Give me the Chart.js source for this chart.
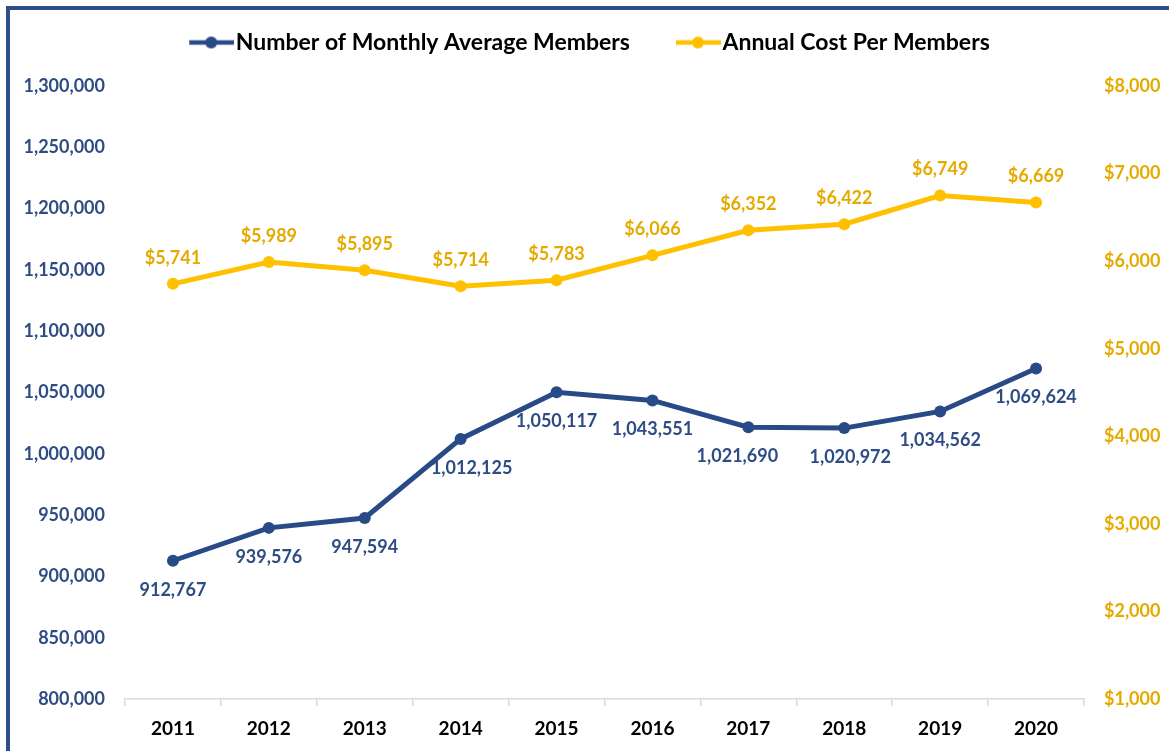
<!DOCTYPE html>
<html>
<head>
<meta charset="utf-8">
<script src="https://cdn.jsdelivr.net/npm/chart.js@4.4.1/dist/chart.umd.min.js"></script>
<style>
    html, body { margin: 0; padding: 0; background: #fff; overflow: hidden; }
    #frame {
        position: absolute; left: 6px; top: 6px;
        width: 1200px; height: 800px;
        border-left: 4px solid #2E4D8A; border-top: 4px solid #2E4D8A;
    }
    #chart { display: block; }
</style>
</head>
<body>
<div id="frame"><canvas id="chart" width="1170" height="741"></canvas></div>
<script>
const years = ["2011", "2012", "2013", "2014", "2015", "2016", "2017", "2018", "2019", "2020"];
const members = [912767, 939576, 947594, 1012125, 1050117, 1043551, 1021690, 1020972, 1034562, 1069624];
const costPerMember = [5741, 5989, 5895, 5714, 5783, 6066, 6352, 6422, 6749, 6669];
const memberTicks = [800000, 1300000, 50000];
const costTicks = [1000, 8000, 1000];

// small horizontal nudges for a few member labels (as placed in the original)
const memberLabelNudge = [0, 0, 0, 11, 0, 0, -11, 6, 0, 0];

const NAVY = "#284A86";
const NAVY_TEXT = "#2E4C84";
const GOLD = "#FFC000";
const GOLD_TEXT = "#E5AA00";
const FONT = "Lato, 'Open Sans', sans-serif";

// legend marker: line with a dot, drawn at the right side of its image
function legendMarker(color) {
    const c = document.createElement("canvas");
    c.width = 80; c.height = 16;
    const g = c.getContext("2d");
    g.strokeStyle = color;
    g.lineWidth = 4.5;
    g.beginPath(); g.moveTo(35, 8); g.lineTo(80, 8); g.stroke();
    g.fillStyle = color;
    g.beginPath(); g.arc(57, 8, 6, 0, Math.PI * 2); g.fill();
    return c;
}

const legendHeight = {
    id: "legendHeight",
    beforeLayout(chart) {
        const lg = chart.legend;
        if (lg && !lg._fixed) {
            const fit = lg.fit;
            lg.fit = function () { fit.call(this); this.height = 76; };
            lg._fixed = true;
        }
    },
    afterLayout(chart) {
        // legend sits slightly left of the canvas centre
        if (chart.legend) chart.legend.right -= 36;
    }
};

const pointLabels = {
    id: "pointLabels",
    afterDatasetsDraw(chart) {
        const ctx = chart.ctx;
        ctx.save();
        ctx.font = "bold 18px " + FONT;
        ctx.textAlign = "center";
        ctx.textBaseline = "middle";
        chart.data.datasets.forEach((ds, i) => {
            const meta = chart.getDatasetMeta(i);
            meta.data.forEach((pt, j) => {
                const v = ds.data[j];
                if (i === 0) {
                    ctx.fillStyle = NAVY_TEXT;
                    ctx.fillText(v.toLocaleString("en-US"), pt.x + memberLabelNudge[j], pt.y + 29);
                } else {
                    ctx.fillStyle = GOLD_TEXT;
                    ctx.fillText("$" + v.toLocaleString("en-US"), pt.x, pt.y - 26);
                }
            });
        });
        ctx.restore();
    }
};

const ctx = document.getElementById("chart").getContext("2d");
new Chart(ctx, {
    type: "line",
    data: {
        labels: years,
        datasets: [
            {
                label: "Number of Monthly Average Members",
                data: members,
                yAxisID: "y",
                borderColor: NAVY,
                backgroundColor: NAVY,
                borderWidth: 5,
                pointRadius: 6,
                pointBorderWidth: 0,
                pointBackgroundColor: NAVY,
                tension: 0
            },
            {
                label: "Annual Cost Per Members",
                data: costPerMember,
                yAxisID: "y1",
                borderColor: GOLD,
                backgroundColor: GOLD,
                borderWidth: 5,
                pointRadius: 6,
                pointBorderWidth: 0,
                pointBackgroundColor: GOLD,
                tension: 0
            }
        ]
    },
    options: {
        responsive: false,
        animation: false,
        devicePixelRatio: 1,
        layout: { padding: 0 },
        plugins: {
            tooltip: { enabled: false },
            legend: {
                position: "top",
                labels: {
                    color: "#000",
                    font: { family: FONT, size: 23, weight: "bold" },
                    usePointStyle: true,
                    pointStyleWidth: 60,
                    boxHeight: 16,
                    padding: 21,
                    generateLabels(chart) {
                        return chart.data.datasets.map((ds, i) => ({
                            text: ds.label,
                            fontColor: "#000",
                            pointStyle: legendMarker(ds.borderColor),
                            fillStyle: ds.borderColor,
                            strokeStyle: ds.borderColor,
                            lineWidth: 0,
                            hidden: false,
                            datasetIndex: i
                        }));
                    }
                }
            }
        },
        scales: {
            x: {
                type: "category",
                offset: true,
                grid: {
                    offset: true,
                    drawOnChartArea: false,
                    drawTicks: true,
                    tickLength: 7,
                    color: "#D9D9D9",
                    lineWidth: 1.5
                },
                border: { display: true, color: "#D9D9D9", width: 1.5 },
                ticks: {
                    color: "#000",
                    font: { family: FONT, size: 19, weight: "bold" },
                    padding: 11,
                    maxRotation: 0
                },
                afterFit(s) { s.height = 52; }
            },
            y: {
                position: "left",
                min: memberTicks[0],
                max: memberTicks[1],
                grid: { display: false },
                border: { display: false },
                ticks: {
                    stepSize: memberTicks[2],
                    color: NAVY_TEXT,
                    font: { family: FONT, size: 18, weight: "bold" },
                    padding: 12,
                    callback: v => v.toLocaleString("en-US")
                },
                afterFit(s) { s.width = 115; }
            },
            y1: {
                position: "right",
                min: costTicks[0],
                max: costTicks[1],
                grid: { display: false },
                border: { display: false },
                ticks: {
                    stepSize: costTicks[2],
                    color: GOLD_TEXT,
                    font: { family: FONT, size: 18, weight: "bold" },
                    padding: 12,
                    callback: v => "$" + v.toLocaleString("en-US")
                },
                afterFit(s) { s.width = 96; }
            }
        }
    },
    plugins: [legendHeight, pointLabels]
});
</script>
</body>
</html>
